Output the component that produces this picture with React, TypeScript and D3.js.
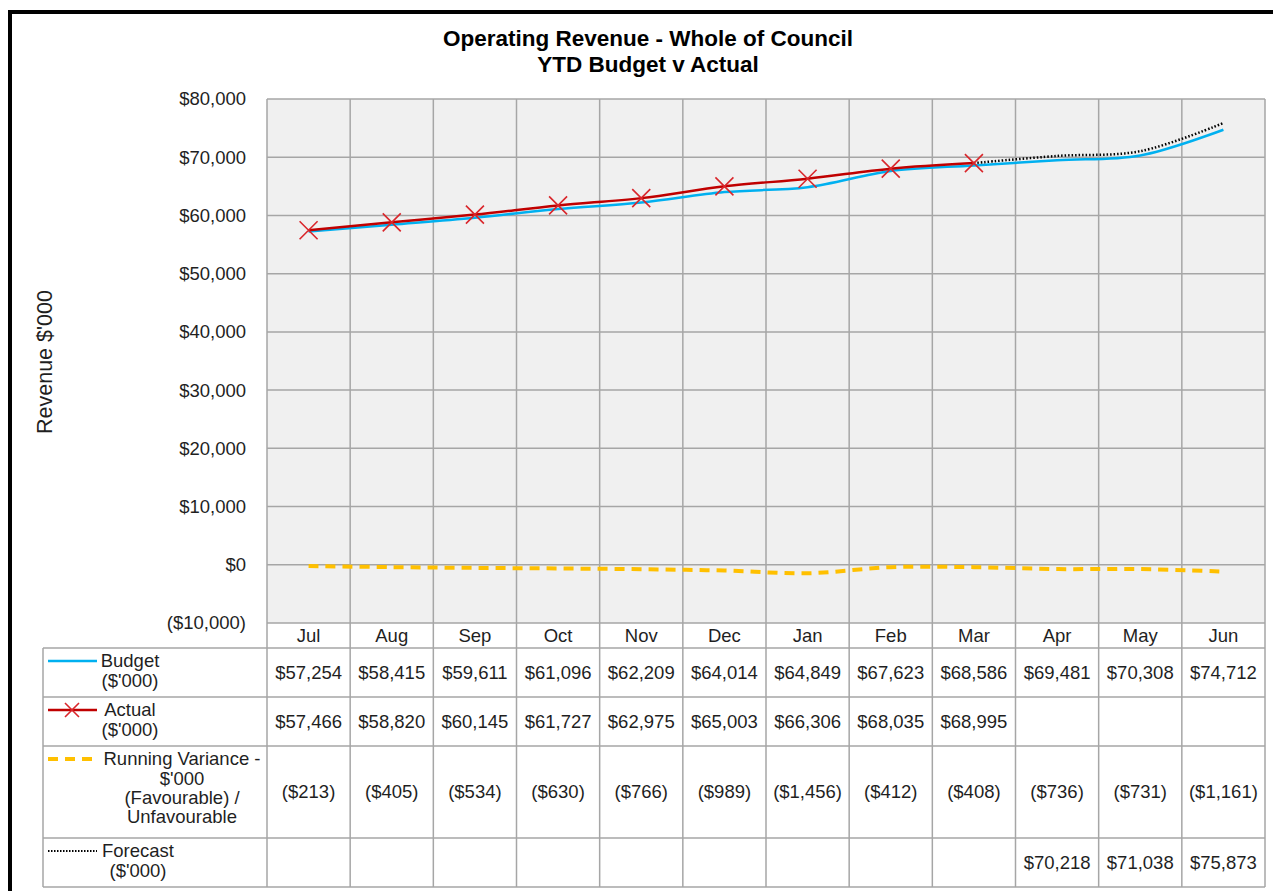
import React from 'react'
import * as d3 from 'd3'

// chart values ($'000)
const months = ['Jul', 'Aug', 'Sep', 'Oct', 'Nov', 'Dec', 'Jan', 'Feb', 'Mar', 'Apr', 'May', 'Jun']
const budget = [57254, 58415, 59611, 61096, 62209, 64014, 64849, 67623, 68586, 69481, 70308, 74712]
const actual: (number | null)[] = [57466, 58820, 60145, 61727, 62975, 65003, 66306, 68035, 68995, null, null, null]
const variance = [-213, -405, -534, -630, -766, -989, -1456, -412, -408, -736, -731, -1161]
const forecast: (number | null)[] = [null, null, null, null, null, null, null, null, null, 70218, 71038, 75873]
const yTicks = [-10000, 0, 10000, 20000, 30000, 40000, 50000, 60000, 70000, 80000]

const FONT = 'Liberation Sans, Arial, sans-serif'
const GRID = '#a6a6a6'
const TEXT = '#1f1f1f'
const FS = 18.5

const fmtNum = d3.format(',')
const money = (v: number) => (v < 0 ? `($${fmtNum(-v)})` : `$${fmtNum(v)}`)

function App () {
  const W = 1273
  const H = 891
  const left = 267
  const right = 1265
  const top = 99
  const plotBottom = 623
  const tableLeft = 43
  const rows = [648, 697, 746, 838, 887]

  const x = d3.scaleBand<string>().domain(months).range([left, right])
  const y = d3.scaleLinear().domain([-10000, 80000]).range([plotBottom, top])
  const cx = (m: string) => (x(m) ?? 0) + x.bandwidth() / 2

  const curve = d3.curveCatmullRom.alpha(0.5)
  const line = d3.line<[string, number | null]>()
    .defined(d => d[1] != null)
    .x(d => cx(d[0]))
    .y(d => y(d[1] as number))
    .curve(curve)

  const budgetPts = months.map((m, i) => [m, budget[i]] as [string, number])
  const actualPts = months.map((m, i) => [m, actual[i]] as [string, number | null])
  const variancePts = months.map((m, i) => [m, variance[i]] as [string, number])
  // forecast continues on from the last actual
  const lastActual = actual.reduce((acc: number, v, i) => (v != null ? i : acc), 0)
  const forecastPts = months
    .map((m, i) => [m, i === lastActual ? actual[i] : forecast[i]] as [string, number | null])
    .filter(d => d[1] != null)

  const tableRows = [
    { values: budget.map(v => money(v)) },
    { values: actual.map(v => (v == null ? '' : money(v))) },
    { values: variance.map(v => money(v)) },
    { values: forecast.map(v => (v == null ? '' : money(v))) }
  ]

  const legendLabels = [
    ['Budget', "($'000)"],
    ['Actual', "($'000)"],
    ['Running Variance -', "$'000", '(Favourable) /', 'Unfavourable'],
    ['Forecast', "($'000)"]
  ]
  const legendCenters = [130, 130, 182, 138]

  const legendSample = (i: number, yy: number) => {
    const x1 = 48
    const x2 = 97
    if (i === 0) return <line x1={x1} x2={x2} y1={yy} y2={yy} stroke='#00b0f0' strokeWidth={2.5} />
    if (i === 1) {
      return (
        <g>
          <line x1={x1} x2={x2} y1={yy} y2={yy} stroke='#c00000' strokeWidth={2.5} />
          <path d={`M${72 - 7},${yy - 7}L${72 + 7},${yy + 7}M${72 - 7},${yy + 7}L${72 + 7},${yy - 7}`} stroke='#d9262b' strokeWidth={1.6} />
        </g>
      )
    }
    if (i === 2) return <line x1={x1} x2={x2 - 4} y1={yy} y2={yy} stroke='#ffc000' strokeWidth={4} strokeDasharray='10,7' />
    return <line x1={x1} x2={x2} y1={yy} y2={yy} stroke='#000' strokeWidth={2} strokeDasharray='1.5,1.5' />
  }

  return (
    <svg width={W} height={H} style={{ position: 'absolute', left: 0, top: 0, background: '#fff' }} fontFamily={FONT}>
      <rect x={10} y={12} width={1400} height={1000} fill='#fff' stroke='#000' strokeWidth={4} />

      {/* title */}
      <text x={648} y={46} textAnchor='middle' fontSize={22.5} fontWeight='bold' fill='#000'>Operating Revenue - Whole of Council</text>
      <text x={648} y={72} textAnchor='middle' fontSize={22.5} fontWeight='bold' fill='#000'>YTD Budget v Actual</text>

      {/* plot area */}
      <rect x={left} y={top} width={right - left} height={plotBottom - top} fill='#f0f0f0' />
      {yTicks.map(t => (
        <g key={t}>
          <line x1={left} x2={right} y1={y(t)} y2={y(t)} stroke={GRID} strokeWidth={1.5} />
          <text x={246} y={y(t)} dy='0.35em' textAnchor='end' fontSize={FS} fill={TEXT}>{money(t)}</text>
        </g>
      ))}
      {months.map(m => (
        <line key={m} x1={x(m)} x2={x(m)} y1={top} y2={rows[rows.length - 1]} stroke={GRID} strokeWidth={1.5} />
      ))}
      <line x1={right} x2={right} y1={top} y2={rows[rows.length - 1]} stroke={GRID} strokeWidth={1.5} />

      {/* axis title */}
      <text transform='translate(52,362) rotate(-90)' textAnchor='middle' fontSize={21.5} fill={TEXT}>Revenue $'000</text>

      {/* category labels */}
      {months.map(m => (
        <text key={m} x={cx(m)} y={636} dy='0.35em' textAnchor='middle' fontSize={FS} fill={TEXT}>{m}</text>
      ))}

      {/* series */}
      <path d={line(variancePts) ?? ''} fill='none' stroke='#ffc000' strokeWidth={4} strokeDasharray='10,7' />
      <path d={line(budgetPts) ?? ''} fill='none' stroke='#00b0f0' strokeWidth={2.5} />
      <path d={line(forecastPts) ?? ''} fill='none' stroke='#000' strokeWidth={2.5} strokeDasharray='1.5,2' />
      <path d={line(actualPts) ?? ''} fill='none' stroke='#c00000' strokeWidth={2.5} />
      {actualPts.filter(d => d[1] != null).map(d => {
        const px = cx(d[0])
        const py = y(d[1] as number)
        const s = 9
        return (
          <path key={d[0]} d={`M${px - s},${py - s}L${px + s},${py + s}M${px - s},${py + s}L${px + s},${py - s}`}
            stroke='#d9262b' strokeWidth={1.6} fill='none' />
        )
      })}

      {/* data table */}
      {rows.map(r => (
        <line key={r} x1={tableLeft} x2={right} y1={r} y2={r} stroke={GRID} strokeWidth={1.5} />
      ))}
      <line x1={tableLeft} x2={tableLeft} y1={rows[0]} y2={rows[rows.length - 1]} stroke={GRID} strokeWidth={1.5} />
      {tableRows.map((row, ri) => {
        const mid = (rows[ri] + rows[ri + 1]) / 2
        return (
          <g key={ri}>
            {row.values.map((v, ci) => (
              <text key={ci} x={cx(months[ci])} y={mid} dy='0.35em' textAnchor='middle' fontSize={FS} fill={TEXT}>{v}</text>
            ))}
          </g>
        )
      })}
      {legendLabels.map((lines, ri) => {
        const first = rows[ri] + 13
        const lh = 19.3
        return (
          <g key={ri}>
            {legendSample(ri, first)}
            {lines.map((s, li) => (
              <text key={li} x={legendCenters[ri]} y={first + li * lh} dy='0.35em' textAnchor='middle' fontSize={FS} fill={TEXT}>{s}</text>
            ))}
          </g>
        )
      })}
    </svg>
  )
}

export default App
